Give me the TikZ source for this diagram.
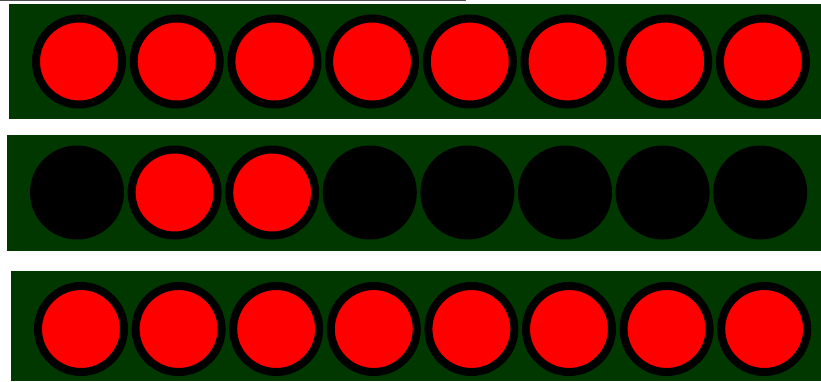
\documentclass[tikz,border=0pt]{standalone}
\usepackage{tikz}
\usetikzlibrary{positioning}

\definecolor{boardgreen}{RGB}{0,56,0}
\definecolor{rulegray}{RGB}{80,80,80}

\begin{document}
\begin{tikzpicture}[
    x=1pt, y=-1pt,
    board/.style={fill=boardgreen},
    lampon/.style={circle, fill=red, draw=black, line width=8pt, minimum size=86pt, inner sep=0pt},
    lampoff/.style={circle, fill=black, minimum size=94pt, inner sep=0pt},
    topline/.style={draw=rulegray, line width=1.5pt}
]
    \useasboundingbox (0,0) rectangle (821,381);
    \coordinate (la) at (0,0.7);
    \coordinate (lb) at (466,0.7);
    \draw[topline] (la) -- (lb);

    % first row: all on
    \fill[board] (9,4) rectangle (821,119);
    \foreach \i in {0,...,7}
        \node[lampon] (a\i) at ({79+97.7*\i},61.5) {};

    % second row: only two on
    \fill[board] (7,135) rectangle (821,251);
    \foreach \i in {0,...,7}{
        \ifnum\i=1 \node[lampon] (b\i) at ({77+97.6*\i},192.5) {};
        \else\ifnum\i=2 \node[lampon] (b\i) at ({77+97.6*\i},192.5) {};
        \else \node[lampoff] (b\i) at ({77+97.6*\i},192.5) {};
        \fi\fi
    }

    % third row: all on
    \fill[board] (11,271) rectangle (821,381);
    \foreach \i in {0,...,7}
        \node[lampon] (c\i) at ({81+97.6*\i},329) {};
\end{tikzpicture}
\end{document}
